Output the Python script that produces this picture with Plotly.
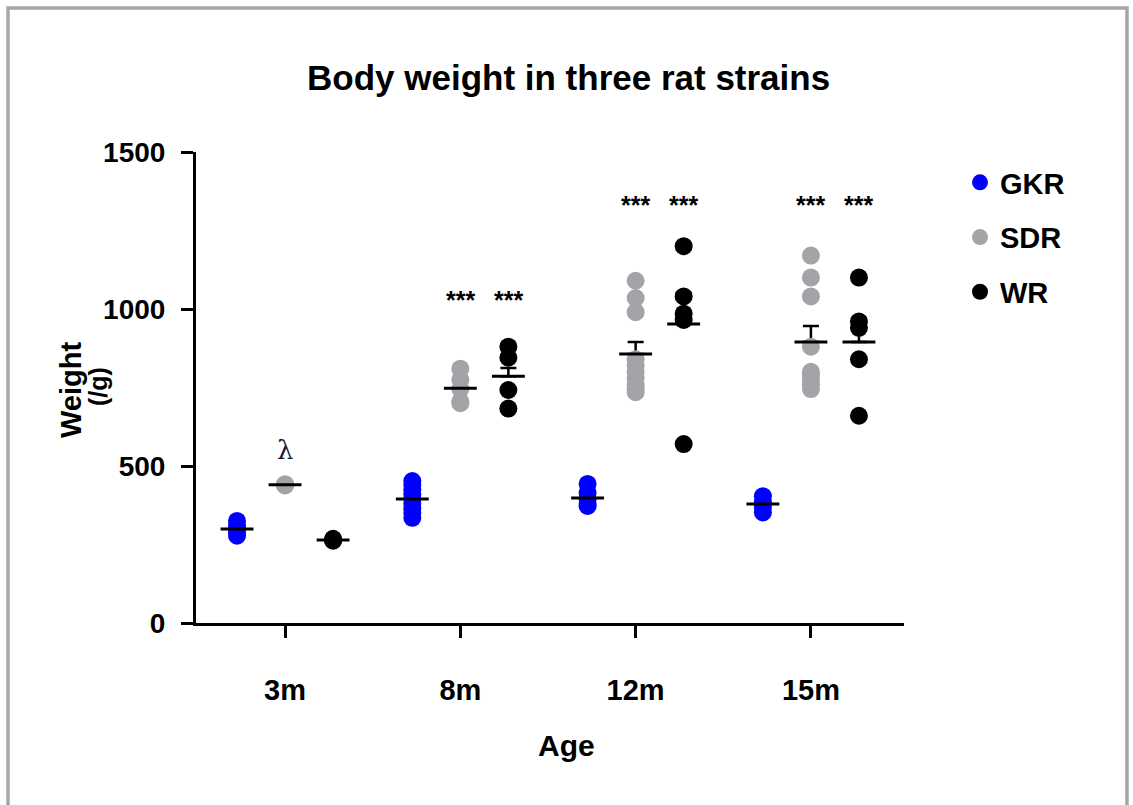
import plotly.graph_objects as go

# ---------------- data ----------------
ages = ["3m", "8m", "12m", "15m"]
strains = ["GKR", "SDR", "WR"]

gkr_points = [
    [278, 290, 300, 310, 325],
    [335, 350, 365, 380, 395, 410, 425, 440, 452],
    [443, 415, 395, 380, 373],
    [404, 385, 370, 352],
]
sdr_points = [
    [438, 440, 442],
    [810, 775, 745, 705, 700],
    [1090, 1035, 990, 840, 820, 800, 780, 760, 745, 735],
    [1170, 1100, 1040, 880, 800, 790, 775, 760, 745],
]
wr_points = [
    [262, 264, 268],
    [880, 845, 742, 683],
    [1200, 1040, 985, 965, 570],
    [1100, 960, 940, 840, 660],
]

gkr_mean = [299, 395, 398, 379]
sdr_mean = [440, 748, 857, 895]
wr_mean = [264, 786, 952, 895]

gkr_sem = [6, 10, 12, 12]
sdr_sem = [3, 25, 38, 51]
wr_sem = [3, 26, 100, 76]

# significance labels (per strain, per age) and their heights
sdr_sig = ["λ", "***", "***", "***"]
wr_sig = ["", "***", "***", "***"]
sig_y = [551, 1030, 1330, 1330]

# ---------------- styling / layout helpers ----------------
W, H = 1133, 805
L, R, T, B = 196, 904, 152, 623  # plot area in pixels
colors = {"GKR": "#0000ff", "SDR": "#a3a3a8", "WR": "#000000"}
offsets = {"GKR": -0.274, "SDR": 0.0, "WR": 0.274}
FONT = "Liberation Sans, Arial, Helvetica, sans-serif"


def px_x(px):
    return (px - L) / (R - L)


def px_y(py):
    return (B - py) / (B - T)


points = {"GKR": gkr_points, "SDR": sdr_points, "WR": wr_points}
means = {"GKR": gkr_mean, "SDR": sdr_mean, "WR": wr_mean}
sems = {"GKR": gkr_sem, "SDR": sdr_sem, "WR": wr_sem}

fig = go.Figure()

# error bars (beneath points)
for s in strains:
    xs = [i + offsets[s] for i in range(len(ages))]
    fig.add_trace(go.Scatter(
        x=xs, y=means[s], mode="markers",
        marker=dict(size=1, opacity=0),
        error_y=dict(type="data", symmetric=False, array=sems[s],
                     arrayminus=[0] * len(ages), width=8, thickness=2.5,
                     color="black"),
        showlegend=False, hoverinfo="skip"))

# individual points
for s in strains:
    xs, ys = [], []
    for i, vals in enumerate(points[s]):
        xs += [i + offsets[s]] * len(vals)
        ys += vals
    fig.add_trace(go.Scatter(
        x=xs, y=ys, mode="markers", name=s, legendgroup=s,
        marker=dict(size=18, color=colors[s], line=dict(width=0)),
    ))

# mean lines (on top)
for s in strains:
    xs = [i + offsets[s] for i in range(len(ages))]
    fig.add_trace(go.Scatter(
        x=xs, y=means[s], mode="markers",
        marker=dict(symbol="line-ew", size=23.5,
                    line=dict(width=3, color="black"), color="black"),
        showlegend=False, hoverinfo="skip"))

annotations = []
for i in range(len(ages)):
    for s, sig in (("SDR", sdr_sig), ("WR", wr_sig)):
        txt = sig[i]
        if not txt:
            continue
        if txt == "λ":
            annotations.append(dict(
                x=i + offsets[s], y=sig_y[i], text=txt, showarrow=False,
                font=dict(family="DejaVu Serif, Liberation Serif, serif",
                          size=26, color="#1a1a33")))
        else:
            annotations.append(dict(
                x=i + offsets[s], y=sig_y[i], text=txt, showarrow=False,
                font=dict(family=FONT, size=25, color="black", weight=700)))

for txt, px, py, fs in (("Weight", 71, 390, 29), ("(/g)", 98, 387, 25)):
    annotations.append(dict(
        xref="paper", yref="paper", x=px_x(px), y=px_y(py),
        xanchor="center", yanchor="middle",
        text=txt, textangle=-90, showarrow=False,
        font=dict(family=FONT, size=fs, color="black", weight=700)))
annotations.append(dict(
    xref="paper", yref="paper", x=px_x(566), y=px_y(745),
    xanchor="center", yanchor="middle",
    text="Age", showarrow=False,
    font=dict(family=FONT, size=30, color="black", weight=700)))
annotations.append(dict(
    xref="paper", yref="paper", x=px_x(568), y=px_y(77),
    xanchor="center", yanchor="middle",
    text="Body weight in three rat strains", showarrow=False,
    font=dict(family=FONT, size=35, color="black", weight=700)))

axis_common = dict(
    showline=True, linewidth=3, linecolor="black", mirror=False,
    ticks="outside", ticklen=12, tickwidth=3, tickcolor="black",
    showgrid=False, zeroline=False,
)

fig.update_layout(
    width=W, height=H,
    margin=dict(l=L, r=W - R, t=T, b=H - B, pad=0),
    paper_bgcolor="white", plot_bgcolor="white",
    xaxis=dict(range=[-0.508, 3.531], tickvals=list(range(len(ages))),
               ticktext=ages, ticklabelstandoff=27,
               tickfont=dict(family=FONT, size=29, color="black", weight=700),
               **axis_common),
    yaxis=dict(range=[0, 1500], tickvals=[0, 500, 1000, 1500],
               ticklabelstandoff=10,
               tickfont=dict(family=FONT, size=28, color="black", weight=700),
               **axis_common),
    legend=dict(x=px_x(960), y=px_y(157), xanchor="left", yanchor="top",
                font=dict(family=FONT, size=29, color="black", weight=700),
                tracegroupgap=14, bgcolor="rgba(0,0,0,0)"),
    annotations=annotations,
    shapes=[dict(type="path", xref="paper", yref="paper",
                 path=f"M {px_x(8)} {px_y(830)} L {px_x(8)} {px_y(8)} "
                      f"L {px_x(1127)} {px_y(8)} L {px_x(1127)} {px_y(830)}",
                 line=dict(color="#a6a6a6", width=3.5))],
    showlegend=True,
)

fig.write_html("out.html")
